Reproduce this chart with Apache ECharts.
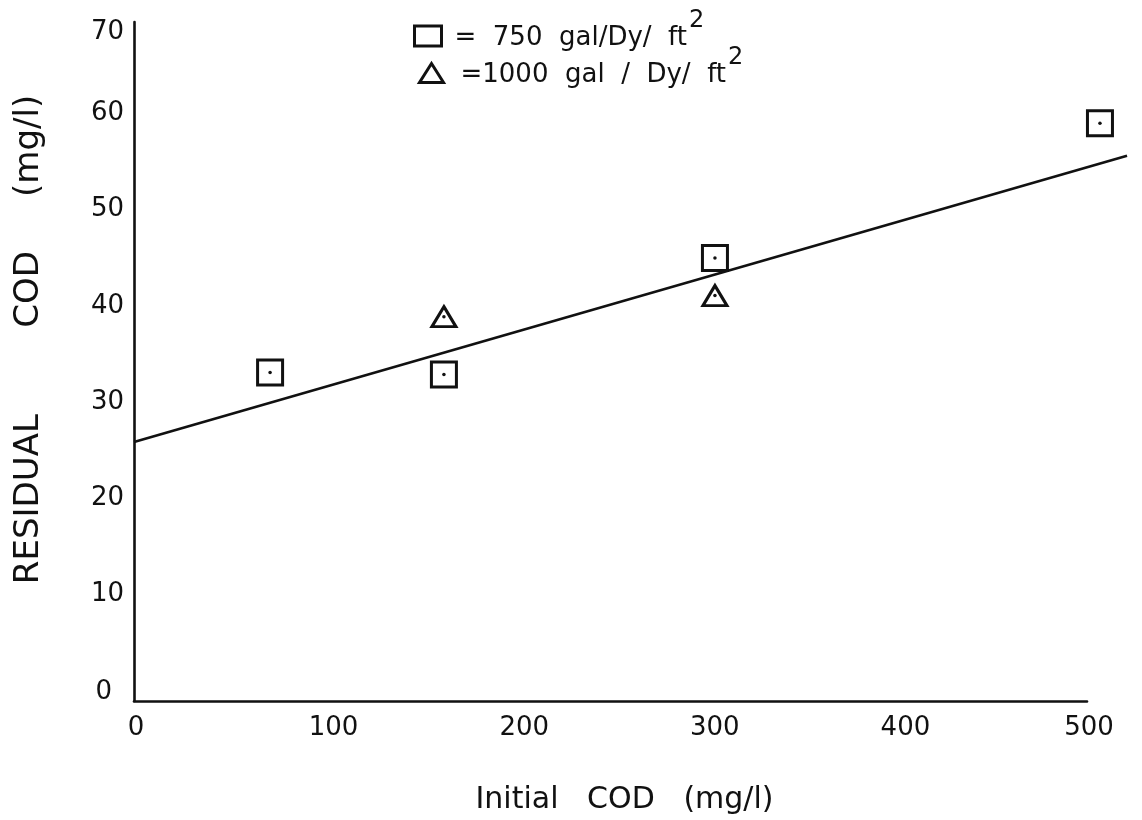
<!DOCTYPE html>
<html>
<head>
<meta charset="utf-8">
<title>Residual COD vs Initial COD</title>
<script src="https://cdn.jsdelivr.net/npm/echarts@6/dist/echarts.min.js"></script>
<style>
  html, body { margin: 0; padding: 0; background: #ffffff; }
  #chart { width: 1142px; height: 820px; }
</style>
</head>
<body>
<div id="chart"></div>
<script>
// Hydraulic loading 750 gal/Dy/ft^2 (squares)
const sqInitial  = [71.4, 162.6, 304.8, 506.8];
const sqResidual = [34.1, 33.9, 46.0, 60.0];

// Hydraulic loading 1000 gal/Dy/ft^2 (triangles)
const triInitial  = [162.6, 304.8];
const triResidual = [39.9, 42.1];

// Fitted straight line, end points
const fitInitial  = [0, 521];
const fitResidual = [26.9, 56.6];

// Axis ticks
const xTicks = [0, 100, 200, 300, 400, 500];
const yTicks = [0, 10, 20, 30, 40, 50, 60, 70];

const legendSquare   = '= 750 gal/Dy/ ft';
const legendTriangle = '=1000 gal / Dy/ ft';

const INK = '#111111';
const FONT = '"DejaVu Sans", sans-serif';

const zip = (xs, ys) => xs.map((x, i) => [x, ys[i]]);

const chart = echarts.init(document.getElementById('chart'), null, { renderer: 'canvas' });

const legendRich = {
  t: { fontFamily: FONT, fontSize: 26, color: INK, lineHeight: 30, verticalAlign: 'bottom' },
  s: { fontFamily: FONT, fontSize: 24, color: INK, lineHeight: 30, verticalAlign: 'bottom', padding: [0, 0, 18, 2] }
};
const legendFormatter = name => '{t|' + name.replace(/ /g, '  ') + '}{s|2}';
const markStyle = { color: '#ffffff', borderColor: INK, borderWidth: 3, opacity: 1 };

chart.setOption({
  backgroundColor: '#ffffff',
  animation: false,
  grid: { left: 134, right: 55, top: 22, bottom: 119, containLabel: false },
  legend: [
    {
      data: [{ name: legendSquare, icon: 'rect', itemStyle: markStyle }],
      left: 413, top: 9, padding: 0, itemWidth: 27, itemHeight: 20,
      selectedMode: false,
      formatter: legendFormatter,
      textStyle: { rich: legendRich, padding: [0, 0, 0, 8] }
    },
    {
      data: [{ name: legendTriangle, icon: 'triangle', itemStyle: markStyle }],
      left: 418, top: 46, padding: 0, itemWidth: 24, itemHeight: 19,
      selectedMode: false,
      formatter: legendFormatter,
      textStyle: { rich: legendRich, padding: [0, 0, 0, 12] }
    }
  ],
  xAxis: {
    type: 'value',
    min: xTicks[0],
    max: xTicks[xTicks.length - 1],
    interval: 100,
    name: 'Initial   COD   (mg/l)',
    nameLocation: 'middle',
    nameGap: 84,
    nameTextStyle: { fontFamily: FONT, fontSize: 30, color: INK, padding: [0, 0, 0, 28] },
    axisLine: { show: true, onZero: false, lineStyle: { color: INK, width: 2.6 } },
    axisTick: { show: false },
    splitLine: { show: false },
    axisLabel: {
      margin: 14,
      formatter: v => (xTicks.includes(v) ? ((v === 0 || v === 500) ? '{e|' + v + '}' : '{m|' + v + '}') : ''),
      rich: {
        e: { fontFamily: FONT, fontSize: 26, color: INK, padding: [0, 0, 0, 4] },
        m: { fontFamily: FONT, fontSize: 26, color: INK, padding: [0, 0, 0, 18] }
      }
    }
  },
  yAxis: {
    type: 'value',
    min: 0,
    max: 70.5,
    interval: 10,
    name: 'RESIDUAL        COD     (mg/l)',
    nameLocation: 'middle',
    nameGap: 88,
    nameTextStyle: { fontFamily: FONT, fontSize: 34, color: INK, padding: [0, 0, 0, 44] },
    axisLine: { show: true, onZero: false, lineStyle: { color: INK, width: 2.6 } },
    axisTick: { show: false },
    splitLine: { show: false },
    axisLabel: {
      margin: 10,
      formatter: v => {
        if (!yTicks.includes(v)) return '';
        if (v === 70) return '{t|' + v + '}';
        if (v === 0) return '{z|' + v + '}';
        return '{n|' + v + '}';
      },
      rich: {
        n: { fontFamily: FONT, fontSize: 26, color: INK, padding: [0, 0, 20, 0] },
        t: { fontFamily: FONT, fontSize: 26, color: INK, padding: [10, 0, 0, 0] },
        z: { fontFamily: FONT, fontSize: 26, color: INK, padding: [0, 12, 18, 0] }
      }
    }
  },
  series: [
    {
      name: 'fit',
      type: 'lines',
      coordinateSystem: 'cartesian2d',
      polyline: false,
      clip: false,
      silent: true,
      data: [{ coords: zip(fitInitial, fitResidual) }],
      lineStyle: { color: INK, width: 2.6, opacity: 1 },
      z: 2
    },
    {
      name: legendSquare,
      type: 'scatter',
      data: zip(sqInitial, sqResidual),
      symbol: 'rect',
      symbolSize: 25,
      clip: false,
      itemStyle: markStyle,
      z: 3
    },
    {
      name: legendTriangle,
      type: 'scatter',
      data: zip(triInitial, triResidual),
      symbol: 'triangle',
      symbolSize: [24, 20],
      clip: false,
      itemStyle: markStyle,
      z: 3
    },
    {
      name: 'centres',
      type: 'scatter',
      data: zip(sqInitial, sqResidual).concat(zip(triInitial, triResidual)),
      symbol: 'circle',
      symbolSize: 3.5,
      clip: false,
      silent: true,
      itemStyle: { color: INK, opacity: 1 },
      z: 4
    }
  ]
});
</script>
</body>
</html>
